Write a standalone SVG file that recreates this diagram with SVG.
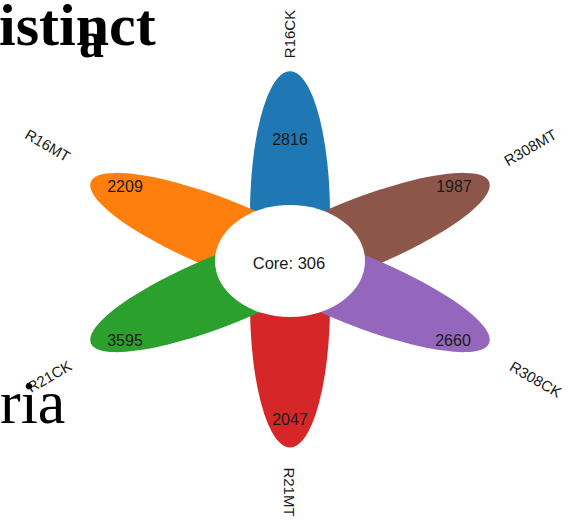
<svg xmlns="http://www.w3.org/2000/svg" width="570" height="522" viewBox="0 0 570 522">
<style>
.num{font-family:"Liberation Sans",Arial,sans-serif;font-size:16px;fill:#1a1a1a;text-anchor:middle}
.lab{font-family:"Liberation Sans",Arial,sans-serif;font-size:15px;fill:#1a1a1a;text-anchor:middle}
.stray{font-family:"Liberation Serif","Times New Roman",serif;fill:#000}
</style>
<defs>
<path id="petalL" d="M70,-30.7 A145,35 0 1,0 70,30.7 Z"/>
<path id="petalR" d="M-70,30.7 A145,35 0 1,0 -70,-30.7 Z"/>
</defs>
<rect width="570" height="522" fill="#fff"/>
<g id="petal-R16CK"><path d="M327.9,261 A40,143 0 1,0 252.1,261 Z" transform="translate(0,-1)" fill="#1f77b4"/></g>
<g id="petal-R21MT"><path d="M251.9,261 A40,143 0 1,0 328.1,261 Z" fill="#d62728"/></g>
<g id="petal-R16MT" transform="translate(225,236) rotate(22)"><use href="#petalL" fill="#ff7f0e"/></g>
<g id="petal-R21CK" transform="translate(225,289) rotate(-22)"><use href="#petalL" fill="#2ca02c"/></g>
<g id="petal-R308MT" transform="translate(355,236) rotate(-22)"><use href="#petalR" fill="#8c564b"/></g>
<g id="petal-R308CK" transform="translate(355,289) rotate(22)"><use href="#petalR" fill="#9467bd"/></g>
<g id="core"><ellipse cx="290" cy="261" rx="75" ry="56" fill="#fff"/>
<text class="num" x="289" y="269" style="font-size:16.5px">Core: 306</text></g>
<g id="counts">
<text class="num" x="290" y="145">2816</text>
<text class="num" x="125" y="192">2209</text>
<text class="num" x="454" y="192">1987</text>
<text class="num" x="125" y="346">3595</text>
<text class="num" x="453" y="346">2660</text>
<text class="num" x="290" y="425">2047</text>
</g>
<g id="labels">
<text class="lab" transform="translate(295,34) rotate(-90)">R16CK</text>
<text class="lab" transform="translate(284,492) rotate(90)">R21MT</text>
<text class="lab" transform="translate(45,150) rotate(30)">R16MT</text>
<text class="lab" transform="translate(533,152) rotate(-30)">R308MT</text>
<text class="lab" transform="translate(52,381) rotate(-30)">R21CK</text>
<text class="lab" transform="translate(533,384) rotate(30)">R308CK</text>
</g>
<g id="stray-text">
<text class="stray" x="-1" y="45" font-size="60" font-weight="bold">istinct</text>
<text class="stray" x="79" y="57" font-size="50" font-weight="bold">a</text>
<text class="stray" x="0" y="423" font-size="62">ria</text>
</g>
</svg>
